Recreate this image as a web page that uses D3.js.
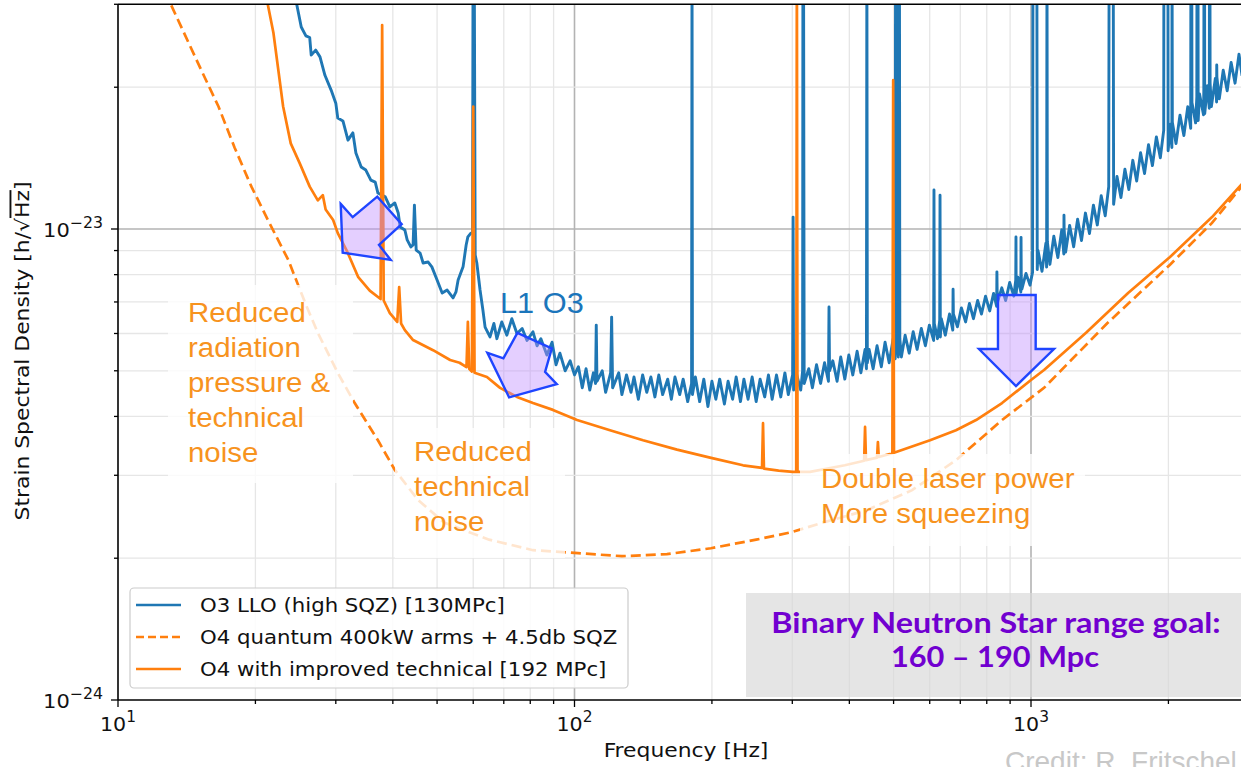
<!DOCTYPE html>
<html><head><meta charset="utf-8">
<script src="https://cdn.jsdelivr.net/npm/d3@7"></script>
<style>body{margin:0;background:#fff;overflow:hidden}svg{display:block}</style>
</head><body><svg id="c" width="1241" height="767"></svg>
<script>
// ---------------- DATA (strain in units of 1e-24 / sqrt(Hz)) ----------------
const UNIT = 1e-24;
const seriesNames = ["O3 LLO (high SQZ) [130MPc]", "O4 quantum 400kW arms + 4.5db SQZ", "O4 with improved technical [192 MPc]"];

// O3 LLO measured (blue): [frequency Hz, ASD]
const o3LLO = [[24.4,31.4],[25.2,26.85],[25.8,25.7],[26.3,25.5],[26.5,23.4],[27.1,23.98],[27.7,23.2],[28.4,21.2],[29.3,19.72],[30.0,18.5],[30.3,17.2],[31.1,16.96],[31.9,15.44],[32.7,16.0],[33.2,14.5],[34.1,13.54],[34.9,13.34],[35.8,12.7],[36.6,12.58],[37.1,11.92],[38.5,11.7],[39.4,11.14],[40.4,11.36],[41.1,10.81],[41.5,10.1],[42.5,9.95],[43.0,9.48],[43.8,9.16],[44.3,9.25],[44.6,11.24],[45.0,9.02],[45.9,8.89],[46.6,8.47],[47.8,8.51],[48.7,8.31],[50.0,7.79],[51.3,7.31],[52.6,7.42],[54.2,7.14],[55.0,7.35],[55.6,7.79],[57.0,8.31],[57.9,9.25],[58.4,9.62],[59.3,9.8],[59.8,9.8],[59.95,40],[60.3,40],[60.6,8.8],[61.1,8.47],[62.1,7.42],[63.0,6.73],[63.7,6.19],[65.3,5.9],[66.6,6.3],[67.6,5.85],[69.3,6.35],[71.1,5.95],[72.9,6.45],[74.8,6.0],[76.8,6.15],[78.7,5.8],[81.1,6.05],[82.8,5.65],[84.4,5.85],[87.0,5.4],[89.3,5.75],[91.1,5.15],[92.9,5.45],[95.4,5.0],[97.8,5.25],[100,4.9],
[102,5.1],[104,4.6],[106,5.05],[108,4.55],[110,4.95],[111.2,4.7],[111.6,6.25],[112,4.75],[115,5.0],[117,4.5],[120,4.95],[120.6,6.5],[121.2,4.6],[125,4.95],[127,4.45],[130,4.9],[133,4.5],[135,4.85],[138,4.35],[141,4.9],[144,4.5],[147,4.85],[150,4.4],[153,4.9],[156,4.45],[160,4.8],[163,4.35],[166,4.85],[170,4.45],[173,4.8],[177,4.3],[180.5,4.7],[180.9,40],[181.3,4.45],[184,4.85],[188,4.3],[192,4.8],[196,4.2],[200,4.75],[204,4.35],[208,4.8],[213,4.25],[217,4.75],[222,4.35],[226,4.85],[231,4.3],[235,4.8],[240,4.35],[245,4.85],[250,4.3],[255,4.8],[261,4.4],[266,4.9],[271,4.35],[277,4.9],[283,4.4],[289,4.95],[294,4.45],[300.5,4.9],[301.2,10.6],[302,4.55],[306,4.95],[313,4.55],[316,5.0],[316.5,40],[317.5,40],[318.5,4.7],[326,5.05],[332,4.6],[339,5.15],[346,4.7],[353,5.2],[360,4.75],[361,6.83],[362,5.0],[368,5.25],[376,4.75],[383,5.35],[391,4.8],[399,5.4],[407,4.9],[416,5.5],[424,4.95],[433,5.55],[436,5.05],[437,40],[438,5.2],[442,5.55],[451,5.05],[460,5.65],[470,5.1],[479,5.75],[489,5.2],[499,5.85],[504,5.3],[505,40],[507,40],[509,5.75],[512,5.35],[513,40],[515,40],[516,5.85],[520,5.35],[530,5.95],[541,5.45],[552,6.05],[563,5.55],[575,6.15],[587,5.65],[599,6.25],[612,5.8],[613,12.1],[614,6.3],[624,5.85],[631,6.4],[632,11.8],[633,5.9],[636,6.45],[649,5.95],[663,6.6],[674,6.1],[675,7.45],[676,6.6],[690,6.2],[704,6.8],[719,6.35],[733,6.95],[748,6.45],[764,7.05],[779,6.6],[795,7.2],[812,6.7],[828,7.3],[841,6.85],[842,8.11],[843,7.4],[845,7.0],[863,7.5],[880,7.05],[898,7.7],[917,7.2],[926,7.8],[927,9.62],[928,7.3],[936,7.9],[950,7.35],[951,9.6],[952,7.95],[955,7.45],[975,8.05],[995,7.6],[1008,8.1],[1010,40],[1030,40],[1032,8.2],
[1036,9.0],[1057,8.13],[1078,9.33],[1082,8.3],[1084,40],[1086,9.4],[1100,8.41],[1122,9.65],[1145,8.7],[1168,9.96],[1180,8.85],[1181,10.7],[1182,10.0],[1191,8.93],[1215,10.18],[1240,9.17],[1265,10.49],[1290,9.45],[1316,10.81],[1343,9.78],[1370,11.24],[1397,10.2],[1425,11.77],[1454,10.67],[1480,12.3],[1483,40],[1514,40],[1517,11.28],[1543,12.93],[1574,11.66],[1606,13.39],[1638,12.13],[1671,13.99],[1704,12.64],[1738,14.52],[1773,13.12],[1809,15.1],[1845,13.63],[1882,15.69],[1920,14.17],[1953,16.2],[1955,40],[1995,40],[1997,14.66],[2020,16.7],[2035,14.9],[2037,40],[2040,16.85],[2078,15.18],[2120,17.45],[2162,15.79],[2205,18.18],[2238,16.36],[2240,40],[2250,40],[2252,18.55],[2294,16.8],[2308,19.08],[2310,40],[2322,40],[2324,17.0],[2340,19.35],[2387,17.48],[2391,19.74],[2393,40],[2400,40],[2402,17.58],[2435,20.14],[2458,18.05],[2460,40],[2466,40],[2468,20.4],[2484,18.19],[2534,20.88],[2550,18.61],[2552,22.3],[2554,21.0],[2585,18.89],[2637,21.73],[2690,19.65],[2744,22.58],[2799,20.4],[2855,23.5],[2900,21.15]];

// O4 quantum noise model (dashed orange)
const o4Quantum = [[12.8,32],[13.07,29.9],[15.2,21.8],[16.6,18.2],[18.0,14.9],[19.6,12.3],[21.3,10.45],[23.6,8.6],[25.7,6.97],[27.4,6.02],[30.3,4.95],[33.0,4.27],[37.1,3.56],[40.4,3.08],[45.4,2.66],[51.8,2.38],[65.0,2.19],[81.1,2.08],[101.8,2.05],[127,2.02],[159.4,2.04],[199,2.10],[250,2.19],[298,2.27],[350,2.38],[437,2.53],[549,2.79],[685,3.23],[864,3.93],[1068,4.6],[1467,6.3],[2016,8.4],[2492,10.3],[2950,12.6]];

// O4 with improved technical noise (solid orange)
const o4Technical = [[20.8,33],[21.3,29.9],[21.9,26.1],[22.4,22.1],[23.0,18.2],[23.9,15.2],[25.0,13.8],[26.3,12.3],[27.4,11.5],[28.1,11.8],[28.5,11.0],[29.6,10.45],[30.3,9.8],[31.7,9.0],[33.6,7.9],[35.6,7.4],[37.6,7.1],[37.9,27.1],[38.2,7.05],[39.4,6.63],[40.9,6.35],[41.3,7.53],[41.7,6.3],[42.5,6.1],[44.3,5.81],[49.0,5.53],[53.4,5.27],[56.0,5.2],[58.0,5.09],[58.4,6.35],[58.8,5.05],[59.6,4.98],[60.0,18.2],[60.4,4.95],[64.3,4.85],[68.7,4.60],[74.8,4.40],[81.1,4.27],[89.7,4.13],[101.3,3.93],[119.6,3.74],[141.3,3.56],[167.7,3.40],[198.1,3.27],[233.9,3.15],[257.5,3.11],[258.8,3.87],[260,3.10],[280,3.07],[301,3.05],[306,3.05],[307,40],[308,3.05],[328,3.05],[391,3.15],[431,3.22],[433,3.80],[435,3.23],[460,3.27],[462,3.53],[464,3.28],[497,3.34],[499,20.7],[501,3.35],[601,3.56],[685,3.74],[758,3.93],[864,4.27],[1000,4.78],[1068,5.02],[1320,6.02],[1632,7.31],[2016,8.72],[2492,10.6],[2950,12.7]];

const xTickValues = [10, 100, 1000];
const xTickExp = ["1", "2", "3"];
const yTickValues = [1e-24, 1e-23];
const yTickExp = ["\u221224", "\u221223"];

// ---------------- LAYOUT ----------------
const svg = d3.select("#c");
const xLeft = 118, decX = 456.5, yBottom = 700, decY = 471;
const x = d3.scaleLog().domain([10, 2900]).range([xLeft, xLeft + decX * Math.log10(290)]);
const y = d3.scaleLog().domain([1e-24, 3e-23]).range([yBottom, yBottom - decY * Math.log10(30)]);
const [X0, X1] = x.range(), [Y0, Y1] = y.range();
const isMajor = v => Math.abs(Math.log10(v) - Math.round(Math.log10(v))) < 1e-9;
const MPL = "DejaVu Sans";
const SANS = "Liberation Sans, Arial, sans-serif";

svg.append("defs").append("clipPath").attr("id", "plot")
  .append("rect").attr("x", X0).attr("y", Y1).attr("width", X1 - X0).attr("height", Y0 - Y1);

// grid
const grid = svg.append("g");
x.ticks().filter(v => v > 10).forEach(v => {
  grid.append("line").attr("x1", x(v)).attr("x2", x(v)).attr("y1", Y1).attr("y2", Y0)
    .attr("stroke", isMajor(v) ? "#b3b3b3" : "#e6e6e6").attr("stroke-width", isMajor(v) ? 1.6 : 1.3);
});
y.ticks().filter(v => v > 1.0001e-24 && y(v) > Y1 + 1).forEach(v => {
  grid.append("line").attr("y1", y(v)).attr("y2", y(v)).attr("x1", X0).attr("x2", X1)
    .attr("stroke", isMajor(v) ? "#b3b3b3" : "#e6e6e6").attr("stroke-width", isMajor(v) ? 1.6 : 1.3);
});

// data lines
const line = d3.line().x(d => x(d[0])).y(d => y(d[1] * UNIT));
const plot = svg.append("g").attr("clip-path", "url(#plot)");
plot.append("path").datum(o3LLO).attr("d", line).attr("fill", "none")
  .attr("stroke", "#1f77b4").attr("stroke-width", 2.9).attr("stroke-linejoin", "round");
plot.append("path").datum(o4Quantum).attr("d", line).attr("fill", "none")
  .attr("stroke", "#ff7f0e").attr("stroke-width", 2.7).attr("stroke-dasharray", "10,5");
plot.append("path").datum(o4Technical).attr("d", line).attr("fill", "none")
  .attr("stroke", "#ff7f0e").attr("stroke-width", 2.7).attr("stroke-linejoin", "round");

// helper: text with horizontal stretch
function stext(g, px, py, size, sx, family) {
  return g.append("text").attr("transform", `translate(${px},${py}) scale(${sx},1)`)
    .attr("font-family", family).attr("font-size", size);
}

// annotation text boxes (semi-transparent white)
const boxes = [[168, 285, 185, 198], [395, 428, 170, 130], [800, 454, 285, 92]];
boxes.forEach(b => svg.append("rect").attr("x", b[0]).attr("y", b[1]).attr("width", b[2]).attr("height", b[3])
  .attr("fill", "#fff").attr("opacity", 0.8));

const ann = [
  {x: 188, y: 322, lines: ["Reduced", "radiation", "pressure &", "technical", "noise"]},
  {x: 414, y: 461, lines: ["Reduced", "technical", "noise"]},
  {x: 821, y: 488, lines: ["Double laser power", "More squeezing"]}
];
ann.forEach(a => {
  const t = stext(svg, a.x, a.y, 27.5, 1.07, SANS).attr("fill", "#f7931e");
  a.lines.forEach((l, i) => t.append("tspan").attr("x", 0).attr("y", i * 35).text(l));
});
stext(svg, 500, 313, 29, 1.06, SANS).attr("fill", "#1b75bb").text("L1 O3");

// BNS box
svg.append("rect").attr("x", 746).attr("y", 593).attr("width", 520).attr("height", 104)
  .attr("fill", "#d9d9d9").attr("opacity", 0.68);
stext(svg, 996, 633, 29, 1.115, "Lato, 'Open Sans', sans-serif").attr("font-weight", "bold")
  .attr("fill", "#7100d0").attr("text-anchor", "middle").text("Binary Neutron Star range goal:");
stext(svg, 995, 667, 29, 1.06, "Lato, 'Open Sans', sans-serif").attr("font-weight", "bold")
  .attr("fill", "#7100d0").attr("text-anchor", "middle").text("160 \u2013 190 Mpc");

// legend
const lg = svg.append("g");
lg.append("rect").attr("x", 130).attr("y", 588).attr("width", 498).attr("height", 100).attr("rx", 4)
  .attr("fill", "#fff").attr("fill-opacity", 0.85).attr("stroke", "#cccccc").attr("stroke-width", 1.2);
const legStyles = [{c: "#1f77b4", d: null}, {c: "#ff7f0e", d: "8,4"}, {c: "#ff7f0e", d: null}];
seriesNames.forEach((n, i) => {
  const cy = 605 + i * 32;
  const l = lg.append("line").attr("x1", 136).attr("x2", 181).attr("y1", cy).attr("y2", cy)
    .attr("stroke", legStyles[i].c).attr("stroke-width", 2.7);
  if (legStyles[i].d) l.attr("stroke-dasharray", legStyles[i].d);
  stext(lg, 200, cy + 7, 19, 1.12, MPL).attr("fill", "#111").text(n);
});

// arrows (tip anchored in data space, shape in px offsets)
const arrows = [
  {f: 31.06, h: 8.91, pts: [[-2,-48.7],[10,-35.4],[34.6,-56],[59,-28.4],[36.3,-7.7],[48,7.3],[0,0]]},
  {f: 71.9, h: 4.39, pts: [[8.3,-64.6],[42.7,-49],[36,-25.6],[47.7,-13.3],[0,0],[-21.7,-44.6],[-5.7,-39]]},
  {f: 927, h: 4.64, pts: [[-18,-91],[19.7,-91],[19.7,-37],[38,-37],[0,0],[-37,-37],[-18,-37]]}
];
arrows.forEach(a => {
  const tx = x(a.f), ty = y(a.h * UNIT);
  svg.append("polygon").attr("points", a.pts.map(p => [tx + p[0], ty + p[1]].join(",")).join(" "))
    .attr("fill", "rgb(190,140,255)").attr("fill-opacity", 0.42)
    .attr("stroke", "#1f45ff").attr("stroke-width", 2.4).attr("stroke-linejoin", "miter");
});

// spines
const sp = svg.append("g").attr("stroke", "#000").attr("stroke-width", 1.6);
sp.append("line").attr("x1", X0).attr("x2", X0).attr("y1", Y1).attr("y2", Y0);
sp.append("line").attr("x1", X0).attr("x2", X1).attr("y1", Y0).attr("y2", Y0);
sp.append("line").attr("x1", X0).attr("x2", X1).attr("y1", Y1).attr("y2", Y1);

// ticks
const tk = svg.append("g").attr("stroke", "#000").attr("stroke-width", 1.3);
x.ticks().forEach(v => tk.append("line").attr("x1", x(v)).attr("x2", x(v)).attr("y1", Y0)
  .attr("y2", Y0 + (isMajor(v) ? 7 : 4)));
y.ticks().filter(v => y(v) >= Y1 - 0.5).forEach(v => tk.append("line").attr("y1", y(v)).attr("y2", y(v))
  .attr("x1", X0).attr("x2", X0 - (isMajor(v) ? 7 : 4)));

// tick labels
xTickValues.forEach((v, i) => {
  const t = stext(svg, x(v), 731, 20, 1.03, MPL).attr("text-anchor", "middle").attr("fill", "#111");
  t.append("tspan").text("10");
  t.append("tspan").attr("dy", -9).attr("font-size", 15).text(xTickExp[i]);
});
yTickValues.forEach((v, i) => {
  const t = stext(svg, 103, y(v) + 8, 20, 1.05, MPL).attr("text-anchor", "end").attr("fill", "#111");
  t.append("tspan").text("10");
  t.append("tspan").attr("dy", -9).attr("font-size", 15).text(yTickExp[i]);
});

// axis labels
stext(svg, 686, 757, 19, 1.15, MPL).attr("text-anchor", "middle").attr("fill", "#111").text("Frequency [Hz]");
const yl = svg.append("text").attr("transform", "translate(29,351) rotate(-90) scale(1.15,1)")
  .attr("text-anchor", "middle").attr("font-family", MPL).attr("font-size", 19).attr("fill", "#111");
yl.append("tspan").text("Strain Spectral Density [h/\u221A");
yl.append("tspan").style("text-decoration", "overline").text("Hz");
yl.append("tspan").text("]");

// credit
svg.append("text").attr("x", 1005).attr("y", 771).attr("font-family", SANS)
  .attr("font-size", 28).attr("fill", "#c8c8c8").text("Credit: R. Fritschel");
</script></body></html>
